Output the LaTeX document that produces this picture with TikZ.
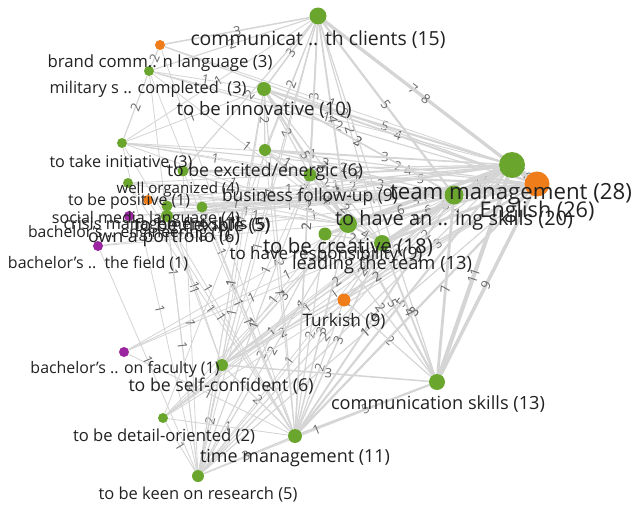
\documentclass[tikz,border=0pt]{standalone}
\usepackage{fontspec}
\setmainfont{Open Sans}
\usetikzlibrary{backgrounds}

\definecolor{sgreen}{HTML}{6AA62E}
\definecolor{sorange}{HTML}{EF7D19}
\definecolor{spurple}{HTML}{9B24A0}
\definecolor{edgegray}{HTML}{D5D5D5}
\definecolor{elabgray}{HTML}{6A6A6A}
\definecolor{labtext}{HTML}{222222}

\newlength\labw
\newsavebox\labbox
% label centred at (x,y), scaled so that its width is the given one
\newcommand\putlabel[5]{%
  \pgfinterruptpicture
    \global\setbox\labbox=\hbox{\normalfont\fontsize{10}{12}\selectfont #5}%
  \endpgfinterruptpicture
  \labw=\wd\labbox
  \pgfmathsetmacro\labfs{10*#4/\labw}%
  \node[nodelabel, font=\fontsize{\labfs}{\labfs}\selectfont] (#1) at (#2,#3) {#5};}

\tikzset{
  dot/.style={circle, inner sep=0pt, draw=none},
  edge/.style={draw=edgegray},
  elab/.style={pos=0.5, sloped, font=\fontsize{13}{13}\selectfont, text=elabgray, inner sep=1pt},
  nodelabel/.style={inner sep=0pt, text=labtext, anchor=center},
}

\begin{document}
\begin{tikzpicture}[x=1pt,y=-1pt]
\useasboundingbox (0,0) rectangle (633,506);

% skill nodes
\node[dot, fill=sgreen,  minimum size=17pt] (cc)  at (318,16)  {};
\node[dot, fill=sorange, minimum size=10pt] (br)  at (160,45)  {};
\node[dot, fill=sgreen,  minimum size=10pt] (mi)  at (149,71)  {};
\node[dot, fill=sgreen,  minimum size=14pt] (inv) at (264,89)  {};
\node[dot, fill=sgreen,  minimum size=10pt] (ti)  at (122,143) {};
\node[dot, fill=sgreen,  minimum size=12pt] (ex)  at (265,150) {};
\node[dot, fill=sgreen,  minimum size=11pt] (wo)  at (183,171) {};
\node[dot, fill=sgreen,  minimum size=13pt] (bf)  at (310,175) {};
\node[dot, fill=sgreen,  minimum size=10pt] (po)  at (128,183) {};
\node[dot, fill=sorange, minimum size=10pt] (sm)  at (148,200) {};
\node[dot, fill=sgreen,  minimum size=11pt] (cm)  at (167,206) {};
\node[dot, fill=sgreen,  minimum size=11pt] (fl)  at (202,207) {};
\node[dot, fill=sgreen,  minimum size=12pt] (op)  at (167,216) {};
\node[dot, fill=spurple, minimum size=10pt] (be)  at (129,216) {};
\node[dot, fill=spurple, minimum size=10pt] (bt)  at (98,246)  {};
\node[dot, fill=sgreen,  minimum size=26pt] (tm)  at (512,165) {};
\node[dot, fill=sorange, minimum size=25pt] (en)  at (537,184) {};
\node[dot, fill=sgreen,  minimum size=19pt] (hs)  at (454,195) {};
\node[dot, fill=sgreen,  minimum size=18pt] (cr)  at (348,224) {};
\node[dot, fill=sgreen,  minimum size=13pt] (rs)  at (325,234) {};
\node[dot, fill=sgreen,  minimum size=16pt] (lt)  at (382,243) {};
\node[dot, fill=sorange, minimum size=13pt] (tk)  at (344,300) {};
\node[dot, fill=spurple, minimum size=10pt] (bfa) at (124,352) {};
\node[dot, fill=sgreen,  minimum size=12pt] (sc)  at (222,365) {};
\node[dot, fill=sgreen,  minimum size=10pt] (do)  at (163,418) {};
\node[dot, fill=sgreen,  minimum size=14pt] (tmg) at (295,436) {};
\node[dot, fill=sgreen,  minimum size=12pt] (kr)  at (198,476) {};
\node[dot, fill=sgreen,  minimum size=16pt] (cs)  at (437,382) {};

% co-occurrence links, drawn behind the nodes
\begin{scope}[on background layer]
\fill[white] (0,0) rectangle (633,506);
\foreach \a/\b/\w in {
  tm/en/16, tm/hs/12, tm/cr/10, en/hs/13, cc/tm/7, cc/en/8, cs/tm/11, cs/en/9,
  tm/lt/6, en/lt/7, tm/inv/5, en/inv/4, tm/bf/4, en/bf/5, tm/ex/3, en/ex/2,
  tm/rs/3, en/rs/6, tm/tk/2, en/tk/3, tm/tmg/5, en/tmg/5, tm/sc/2, en/sc/2,
  tm/kr/2, en/kr/1, tm/wo/2, en/wo/1, tm/ti/1, en/ti/2, tm/mi/1, en/mi/2,
  tm/br/1, en/br/2, tm/fl/2, en/fl/3, tm/op/3, en/op/2, tm/cm/1, en/cm/2,
  tm/sm/2, en/sm/1, tm/po/1, tm/do/1, en/be/1, en/bt/1,
  hs/cr/6, hs/cc/5, hs/lt/5, hs/cs/7, hs/tmg/4, hs/inv/3, hs/bf/3, hs/tk/2,
  cr/cc/4, cr/inv/5, cr/lt/4, cr/cs/5, cr/tmg/3, cr/ex/3, cr/bf/2,
  cc/inv/3, cc/ex/2, cc/bf/3, cc/lt/2, cc/mi/2, cc/br/3, cc/ti/1, cc/wo/2,
  cc/sc/1, cc/tmg/2, cc/cs/2,
  cs/tmg/5, cs/sc/3, cs/lt/4, cs/tk/2, cs/rs/2, cs/kr/1,
  tmg/lt/3, tmg/tk/2, tmg/sc/2, tmg/kr/3, tmg/do/1, tmg/inv/2, tmg/rs/2, tmg/bf/1,
  kr/sc/2, kr/do/1, kr/cr/2, kr/lt/1, sc/tk/2, sc/lt/1, sc/do/1,
  bfa/cr/1, bfa/tmg/1, bt/kr/1, bt/cr/1, be/hs/1, do/cr/1,
  lt/tk/2, lt/inv/2, lt/rs/2, inv/ex/2, inv/bf/2, inv/ti/1, inv/mi/1,
  ex/bf/1, wo/bf/1, ti/bf/1, po/hs/1, sm/cr/1, fl/hs/2, op/hs/2, cm/hs/1,
  cm/cr/1, mi/ti/2, br/mi/2,
  kr/hs/2, kr/en/1, kr/cc/1, kr/inv/1, kr/bf/1, kr/rs/2, kr/tk/1,
  do/hs/1, do/lt/1, do/cc/1, do/en/1,
  sc/hs/2, sc/cr/3, sc/en/2, sc/inv/1, sc/cc/1, sc/bf/1, sc/rs/1,
  bfa/hs/1, bfa/lt/1, tmg/cc/2, tmg/ex/1, tmg/en/3,
  ti/tmg/1, ti/kr/1, mi/kr/1, mi/tmg/1, po/tmg/1, wo/kr/1, wo/tmg/1,
  br/tmg/1, sm/tmg/1, op/kr/1, fl/tmg/1, cm/sc/1, op/sc/1, ex/kr/1,
  inv/kr/1, bf/kr/1, ti/cr/1, mi/cr/1, wo/cr/2, ex/hs/2, ex/lt/1,
  bf/lt/2, bf/cr/3, inv/hs/2, ti/hs/1, po/cr/1, sm/hs/1}
  \draw[edge, line width={(0.5+0.33*\w)*1pt}] (\a) -- (\b) node[elab] {\w};
\end{scope}

% node labels
\putlabel{lcc}{318}{40}{255}{communicat .. th clients (15)}
\putlabel{lbr}{160}{63}{225}{brand comm.. n language (3)}
\putlabel{lmi}{148}{89}{197}{military s .. completed\ \ (3)}
\putlabel{linv}{264}{110}{175}{to be innovative (10)}
\putlabel{lti}{121}{163}{143}{to take initiative (3)}
\putlabel{lex}{265}{172}{196}{to be excited/energic (6)}
\putlabel{lwo}{178}{190}{123}{well organized (4)}
\putlabel{lbf}{310}{197}{176}{business follow-up (9)}
\putlabel{lpo}{129}{201}{122}{to be positive (1)}
\putlabel{lsm}{146}{219}{188}{social media language (4)}
\putlabel{lcm}{167}{225}{207}{crisis management skills (5)}
\putlabel{lfl}{202}{226}{136}{to be flexible (5)}
\putlabel{lbe}{129}{233}{202}{bachelor's .. engineering (1)}
\putlabel{lop}{164}{238}{152}{own a portfolio (6)}
\putlabel{lbt}{98}{264}{180}{bachelor's ..\ \ the field (1)}
\putlabel{ltm}{511}{194}{242}{team management (28)}
\putlabel{len}{537}{212}{115}{English (26)}
\putlabel{lhs}{454}{220}{238}{to have an .. ing skills (20)}
\putlabel{lcr}{348}{247}{170}{to be creative (18)}
\putlabel{lrs}{326}{255}{193}{to have responsibility (9)}
\putlabel{llt}{382}{265}{180}{leading the team (13)}
\putlabel{ltk}{344}{321}{83}{Turkish (9)}
\putlabel{lbfa}{125}{369}{189}{bachelor's .. on faculty (1)}
\putlabel{lsc}{221}{386}{185}{to be self-confident (6)}
\putlabel{ldo}{164}{436}{182}{to be detail-oriented (2)}
\putlabel{ltmg}{295}{458}{190}{time management (11)}
\putlabel{lkr}{198}{495}{199}{to be keen on research (5)}
\putlabel{lcs}{438}{404}{214}{communication skills (13)}
\end{tikzpicture}
\end{document}
